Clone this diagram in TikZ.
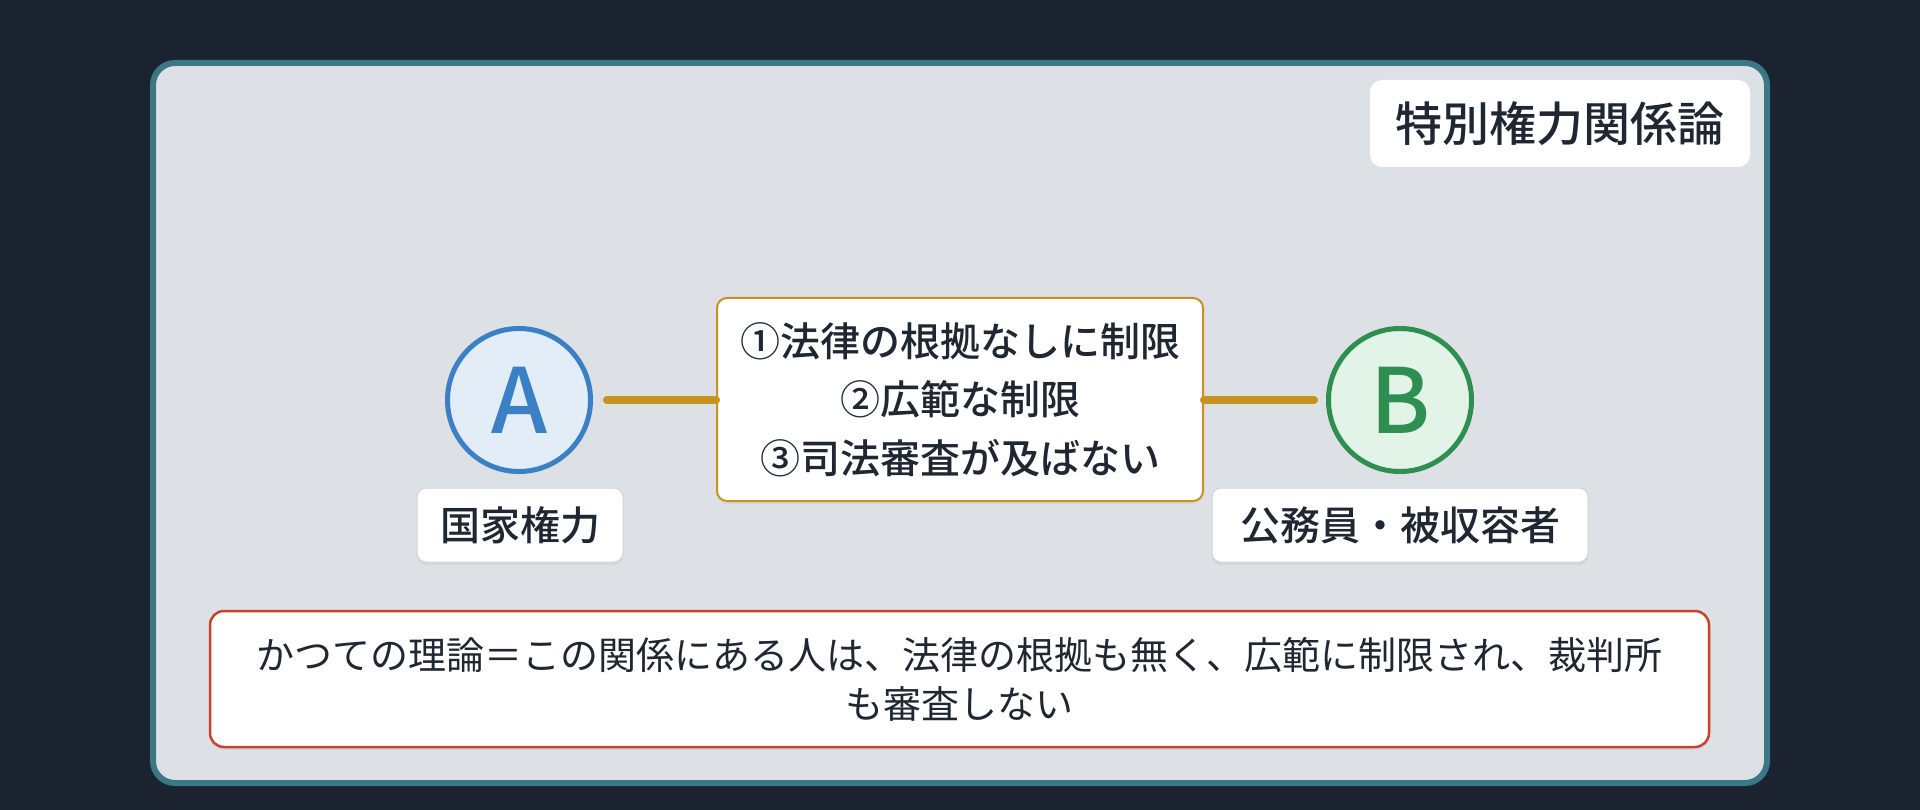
\documentclass[tikz,border=0pt]{standalone}
\usepackage{fontspec}
\setmainfont{Noto Sans CJK JP}
\newfontfamily\jpbold{Noto Sans CJK JP Medium}
\usetikzlibrary{shadows}
\definecolor{bgdark}{HTML}{1C2330}
\definecolor{panelfill}{HTML}{DDE0E5}
\definecolor{panelborder}{HTML}{3A7886}
\definecolor{inkc}{HTML}{1F2733}
\definecolor{gold}{HTML}{C9921F}
\definecolor{redb}{HTML}{C8432E}
\definecolor{afill}{HTML}{E3EDF8}
\definecolor{aline}{HTML}{3A80C4}
\definecolor{bfill}{HTML}{E2F4E7}
\definecolor{bline}{HTML}{2E8F50}
\definecolor{lblborder}{HTML}{CDD4DD}
\tikzset{
  softshadow/.style={drop shadow={opacity=0.10, shadow xshift=0pt, shadow yshift=-3pt}},
  titlebox/.style={fill=white, rounded corners=12pt, minimum width=380pt, minimum height=87pt, inner sep=0pt,
    text=inkc, font=\jpbold\fontsize{47}{56}\selectfont},
  midbox/.style={fill=white, draw=gold, line width=2pt, rounded corners=10pt, minimum width=486pt, minimum height=203pt,
    inner sep=0pt, align=center, text=inkc, font=\jpbold\fontsize{40}{58.5}\selectfont, softshadow},
  lblbox/.style={fill=white, draw=lblborder, line width=1pt, rounded corners=9pt, minimum height=74pt, inner sep=0pt,
    text=inkc, font=\jpbold\fontsize{40}{48}\selectfont, softshadow},
  circA/.style={circle, fill=afill, draw=aline, line width=5pt, minimum size=143pt, inner sep=0pt,
    text=aline, font=\jpbold\fontsize{90}{90}\selectfont, softshadow},
  circB/.style={circle, fill=bfill, draw=bline, line width=5pt, minimum size=143pt, inner sep=0pt,
    text=bline, font=\jpbold\fontsize{90}{90}\selectfont, softshadow},
  notebox/.style={fill=white, draw=redb, line width=2.5pt, rounded corners=14pt, minimum width=1499pt, minimum height=136pt,
    inner sep=0pt, align=center, text=inkc, font=\fontsize{38}{49}\selectfont, softshadow},
  conn/.style={draw=gold, line width=8pt, line cap=round},
}
\begin{document}
\begin{tikzpicture}[x=1pt, y=-1pt]
\useasboundingbox (0,0) rectangle (1920,810);
\fill[bgdark] (0,0) rectangle (1920,810);
\draw[panelborder, fill=panelfill, line width=6pt, rounded corners=22pt] (153,63) rectangle (1767,783);

\node[titlebox] (title) at (1560,123.5) {特別権力関係論};

\node[circA] (A) at (519,400) {A};
\node[circB] (B) at (1400,400) {B};

\node[midbox] (mid) at (960,399.5) {①法律の根拠なしに制限\\②広範な制限\\③司法審査が及ばない};

\draw[conn, shorten <=14pt] (A.east) -- (mid.west |- A.east);
\draw[conn, shorten >=12pt] (mid.east |- B.west) -- (B.west);

\node[lblbox, minimum width=206pt] (la) at (520,525) {国家権力};
\node[lblbox, minimum width=376pt] (lb) at (1400,525) {公務員・被収容者};

\node[notebox] (note) at (959.5,679) {かつての理論＝この関係にある人は、法律の根拠も無く、広範に制限され、裁判所\\も審査しない};
\end{tikzpicture}
\end{document}
